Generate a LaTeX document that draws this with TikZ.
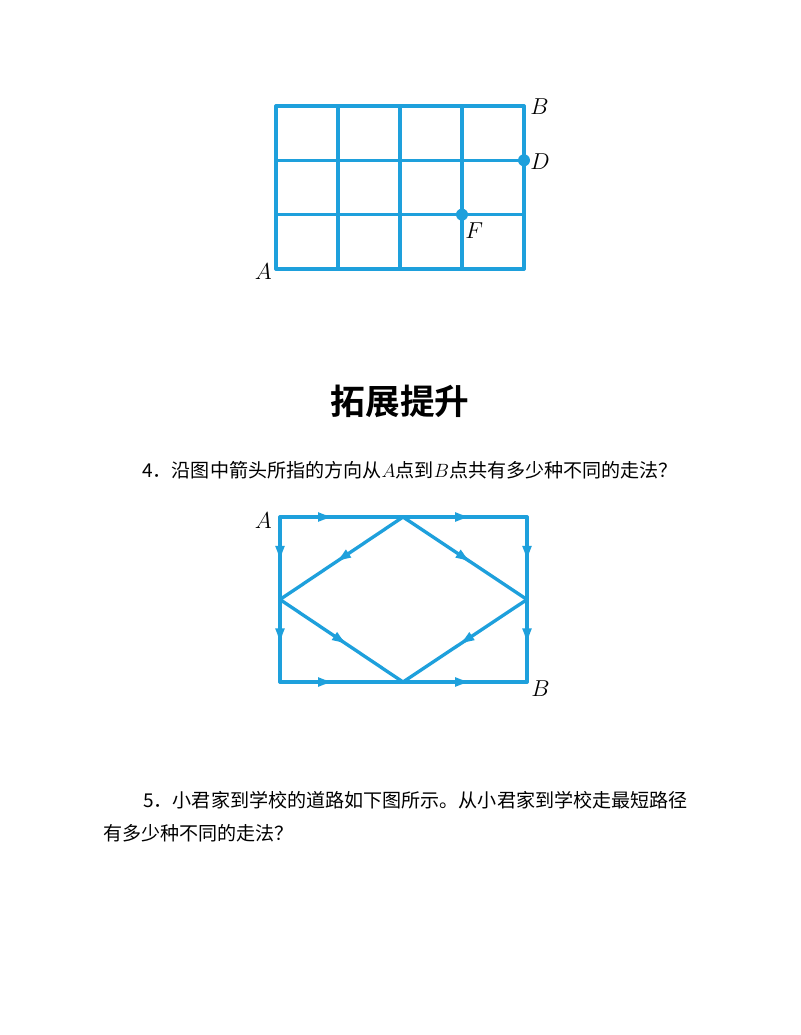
\documentclass[tikz,border=0pt]{standalone}
\usepackage{fontspec}
\newfontfamily\cjk{Noto Sans CJK SC}[BoldFont={Noto Sans CJK SC Bold}]
\usetikzlibrary{arrows.meta,decorations.markings}
\definecolor{roadblue}{RGB}{30,160,220}
\tikzset{
    road/.style={roadblue, line width=2.5pt, line cap=round, line join=round},
    midarrow/.style={postaction={decorate}, decoration={markings,
        mark=at position #1 with {\arrow{Latex[length=13pt,width=7.5pt]}}}},
    midarrow/.default=0.56,
    dot/.style={circle, fill=roadblue, inner sep=0pt, minimum size=9pt},
    lab/.style={inner sep=0pt, font=\fontsize{17pt}{20pt}\selectfont},
    txt/.style={anchor=west, inner sep=0pt, font=\cjk\fontsize{14.3pt}{18pt}\selectfont},
}
\begin{document}
\begin{tikzpicture}[x=0.75pt, y=-0.75pt]

    \useasboundingbox[fill=white] (0,0) rectangle (800,1035);

    % grid of streets, 4 x 3
    \foreach \x in {0,...,4}
        \draw[road] (276+62*\x,106) -- (276+62*\x,269);
    \foreach \y in {0,...,3}
        \draw[road] (276,106+54.3*\y) -- (524,106+54.3*\y);

    \coordinate (gA) at (276,269);
    \coordinate (gB) at (524,106);
    \node[dot] (gD) at (524,160.3) {};
    \node[dot] (gF) at (462,214.6) {};

    \node[lab, anchor=east] (lgA) at (272,272) {$A$};
    \node[lab, anchor=west] (lgB) at (530,107) {$B$};
    \node[lab, anchor=west] (lgD) at (530,162) {$D$};
    \node[lab, anchor=west] (lgF) at (465,231) {$F$};

    % heading and questions
    \node[font=\cjk\bfseries\fontsize{26pt}{30pt}\selectfont, inner sep=0pt] (title) at (400,401) {拓展提升};

    \node[txt] (q4) at (142,470) {4．沿图中箭头所指的方向从$A$点到$B$点共有多少种不同的走法？};

    % road net with arrows
    \coordinate (pA)  at (280,517);
    \coordinate (pT)  at (403,517);
    \coordinate (pTR) at (527,517);
    \coordinate (pL)  at (280,599.5);
    \coordinate (pR)  at (527,599.5);
    \coordinate (pBL) at (280,682);
    \coordinate (pM)  at (403,682);
    \coordinate (pB)  at (527,682);

    \foreach \s/\e/\p in {pA/pT/0.45, pT/pTR/0.56, pBL/pM/0.45, pM/pB/0.56,
                          pA/pL/0.56, pL/pBL/0.56, pTR/pR/0.56, pR/pB/0.56,
                          pT/pL/0.56, pT/pR/0.56, pL/pM/0.56, pR/pM/0.56}
        \draw[road, midarrow=\p] (\s) -- (\e);

    \node[lab, anchor=east] (lpA) at (272,521) {$A$};
    \node[lab, anchor=west] (lpB) at (531,689) {$B$};

    \node[txt] (q5a) at (143,800) {5．小君家到学校的道路如下图所示。从小君家到学校走最短路径};
    \node[txt] (q5b) at (103,833) {有多少种不同的走法？};

\end{tikzpicture}
\end{document}
